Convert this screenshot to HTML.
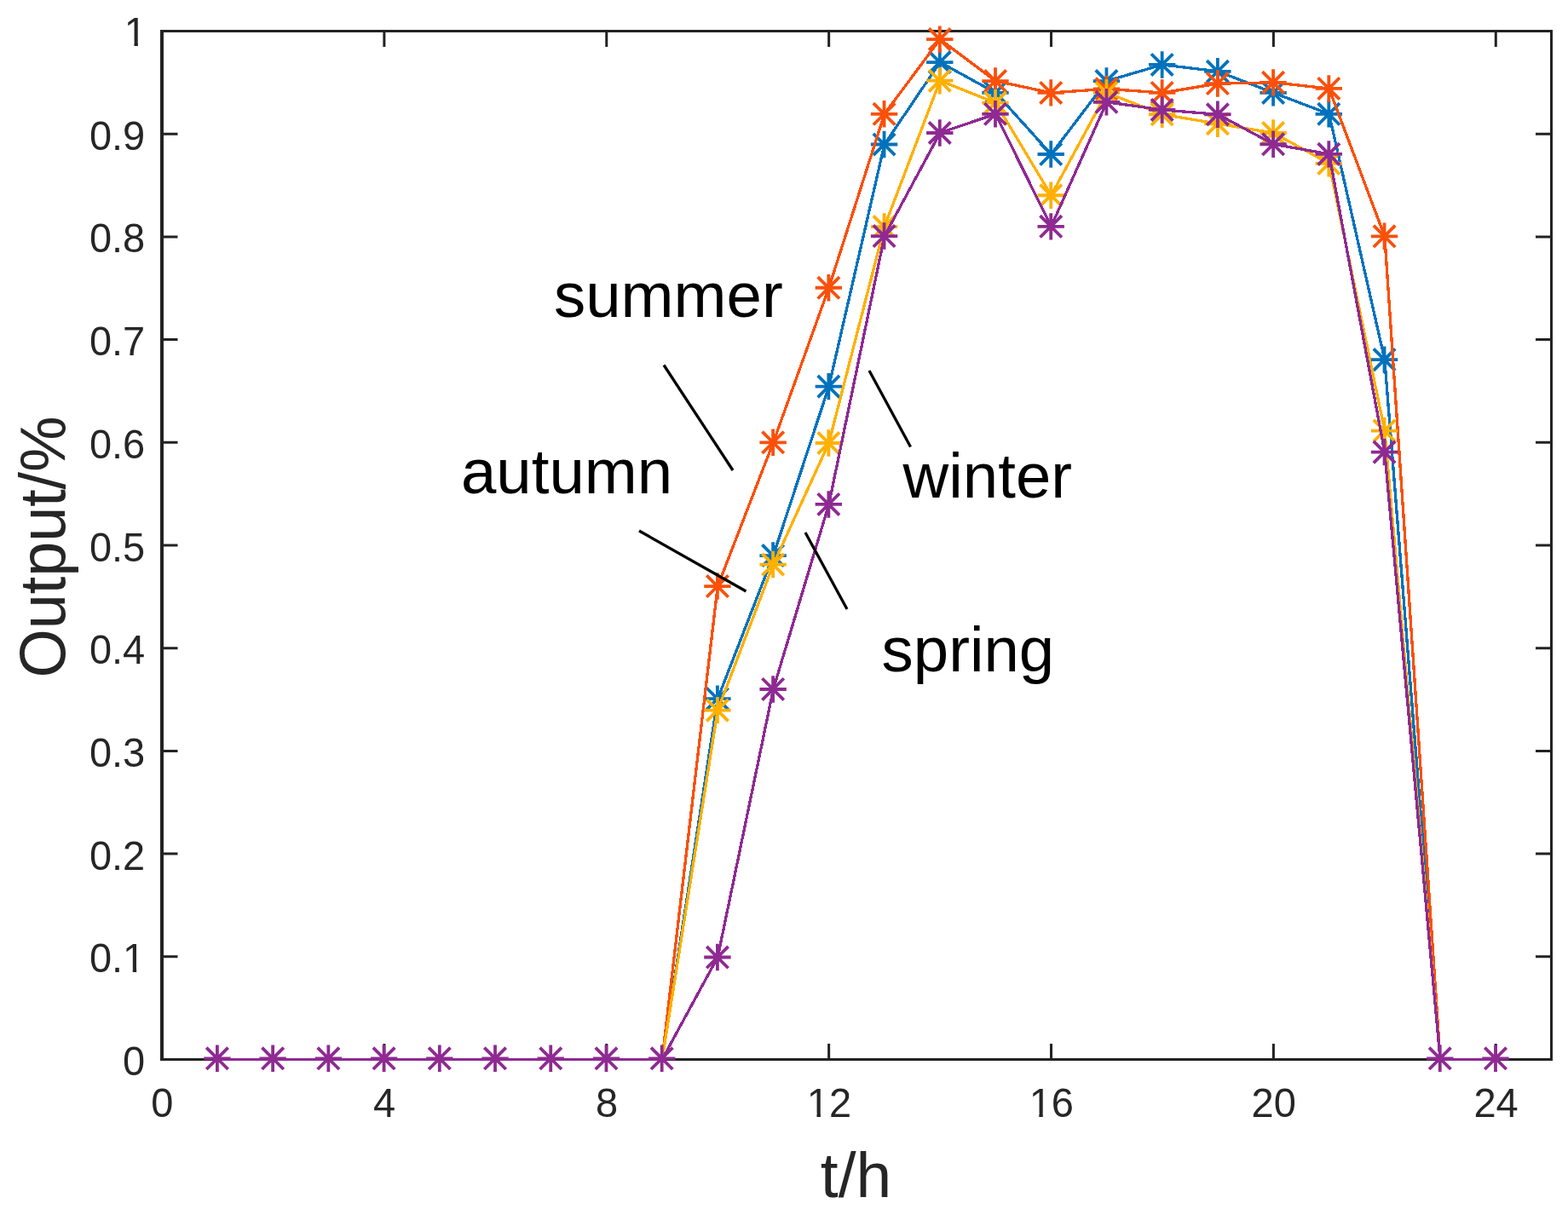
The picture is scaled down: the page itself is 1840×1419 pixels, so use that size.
<!DOCTYPE html>
<html lang="en"><head><meta charset="utf-8"><title>Output by season</title>
<style>
html,body{margin:0;padding:0;background:#fff;}
body{width:1840px;height:1419px;overflow:hidden;}
svg{display:block;}
text{font-family:"Liberation Sans",sans-serif;}
.tk{font-size:47px;fill:#262626;}
.lb{font-size:75px;fill:#262626;}
.an{font-size:74.4px;fill:#000;}
</style></head><body>
<svg width="1840" height="1419" viewBox="0 0 1840 1419">
<rect x="0" y="0" width="1840" height="1419" fill="#ffffff"/>
<g id="axes" fill="none" stroke="#222222">
<rect x="188" y="35" width="4" height="1210" fill="#222222" stroke="none"/>
<rect x="188" y="35" width="1634" height="3" fill="#222222" stroke="none"/>
<rect x="1819" y="35" width="3" height="1210" fill="#222222" stroke="none"/>
<rect x="188" y="1242" width="1634" height="3" fill="#222222" stroke="none"/>
<path d="M450.88 1243.50V1225.00 M450.88 36.50V55.00 M711.76 1243.50V1225.00 M711.76 36.50V55.00 M972.64 1243.50V1225.00 M972.64 36.50V55.00 M1233.52 1243.50V1225.00 M1233.52 36.50V55.00 M1494.40 1243.50V1225.00 M1494.40 36.50V55.00 M1755.28 1243.50V1225.00 M1755.28 36.50V55.00 M190.00 1122.80H208.50 M1820.50 1122.80H1802.00 M190.00 1002.10H208.50 M1820.50 1002.10H1802.00 M190.00 881.40H208.50 M1820.50 881.40H1802.00 M190.00 760.70H208.50 M1820.50 760.70H1802.00 M190.00 640.00H208.50 M1820.50 640.00H1802.00 M190.00 519.30H208.50 M1820.50 519.30H1802.00 M190.00 398.60H208.50 M1820.50 398.60H1802.00 M190.00 277.90H208.50 M1820.50 277.90H1802.00 M190.00 157.20H208.50 M1820.50 157.20H1802.00" stroke-width="3"/>
</g>
<g id="xticks" class="tk" text-anchor="middle">
<g transform="translate(190.30 1311) scale(1 1.04)"><text>0</text></g>
<g transform="translate(451.18 1311) scale(1 1.04)"><text>4</text></g>
<g transform="translate(712.06 1311) scale(1 1.04)"><text>8</text></g>
<g transform="translate(972.94 1311) scale(1 1.04)"><text>12</text><rect x="-23.79" y="-4.51" width="9.32" height="5.71" fill="#fff"/><rect x="-10.02" y="-4.51" width="8.94" height="5.71" fill="#fff"/></g>
<g transform="translate(1233.82 1311) scale(1 1.04)"><text>16</text><rect x="-23.79" y="-4.51" width="9.32" height="5.71" fill="#fff"/><rect x="-10.02" y="-4.51" width="8.94" height="5.71" fill="#fff"/></g>
<g transform="translate(1494.70 1311) scale(1 1.04)"><text>20</text></g>
<g transform="translate(1755.58 1311) scale(1 1.04)"><text>24</text></g>
</g>
<g id="yticks" class="tk" text-anchor="end">
<g transform="translate(170.20 1262.00) scale(1 1.04)"><text>0</text></g>
<g transform="translate(170.20 1141.30) scale(1 1.04)"><text>0.1</text><rect x="-23.79" y="-4.51" width="9.32" height="5.71" fill="#fff"/><rect x="-10.02" y="-4.51" width="8.94" height="5.71" fill="#fff"/></g>
<g transform="translate(170.20 1020.60) scale(1 1.04)"><text>0.2</text></g>
<g transform="translate(170.20 899.90) scale(1 1.04)"><text>0.3</text></g>
<g transform="translate(170.20 779.20) scale(1 1.04)"><text>0.4</text></g>
<g transform="translate(170.20 658.50) scale(1 1.04)"><text>0.5</text></g>
<g transform="translate(170.20 537.80) scale(1 1.04)"><text>0.6</text></g>
<g transform="translate(170.20 417.10) scale(1 1.04)"><text>0.7</text></g>
<g transform="translate(170.20 296.40) scale(1 1.04)"><text>0.8</text></g>
<g transform="translate(170.20 175.70) scale(1 1.04)"><text>0.9</text></g>
<g transform="translate(171.90 54.00) scale(1 1.04)"><text>1</text><rect x="-23.79" y="-4.51" width="9.32" height="5.71" fill="#fff"/><rect x="-10.02" y="-4.51" width="8.94" height="5.71" fill="#fff"/></g>
</g>
<text class="lb" text-anchor="middle" x="1004.5" y="1404.5">t/h</text>
<text class="lb" text-anchor="middle" style="font-size:73.7px" transform="translate(75.6 642) rotate(-90) scale(1 1.04)">Output/%</text>
<g id="blue" stroke="#0072BD">
<polyline points="776.98,1243.50 842.20,820.21 907.42,652.07 972.64,453.64 1037.86,169.51 1103.08,73.07 1168.30,108.92 1233.52,180.98 1298.74,95.04 1363.96,75.97 1429.18,83.81 1494.40,108.92 1559.62,133.78 1624.84,422.14 1690.06,1243.50" fill="none" stroke-width="3.3" stroke-linejoin="round" shape-rendering="crispEdges"/>
<path d="M826.20 820.21h31.40 M841.90 804.51v31.40 M829.20 807.51l25.40 25.40 M829.20 832.91l25.40 -25.40 M891.42 652.07h31.40 M907.12 636.37v31.40 M894.42 639.37l25.40 25.40 M894.42 664.77l25.40 -25.40 M956.64 453.64h31.40 M972.34 437.94v31.40 M959.64 440.94l25.40 25.40 M959.64 466.34l25.40 -25.40 M1021.86 169.51h31.40 M1037.56 153.81v31.40 M1024.86 156.81l25.40 25.40 M1024.86 182.21l25.40 -25.40 M1087.08 73.07h31.40 M1102.78 57.37v31.40 M1090.08 60.37l25.40 25.40 M1090.08 85.77l25.40 -25.40 M1152.30 108.92h31.40 M1168.00 93.22v31.40 M1155.30 96.22l25.40 25.40 M1155.30 121.62l25.40 -25.40 M1217.52 180.98h31.40 M1233.22 165.28v31.40 M1220.52 168.28l25.40 25.40 M1220.52 193.68l25.40 -25.40 M1282.74 95.04h31.40 M1298.44 79.34v31.40 M1285.74 82.34l25.40 25.40 M1285.74 107.74l25.40 -25.40 M1347.96 75.97h31.40 M1363.66 60.27v31.40 M1350.96 63.27l25.40 25.40 M1350.96 88.67l25.40 -25.40 M1413.18 83.81h31.40 M1428.88 68.11v31.40 M1416.18 71.11l25.40 25.40 M1416.18 96.51l25.40 -25.40 M1478.40 108.92h31.40 M1494.10 93.22v31.40 M1481.40 96.22l25.40 25.40 M1481.40 121.62l25.40 -25.40 M1543.62 133.78h31.40 M1559.32 118.08v31.40 M1546.62 121.08l25.40 25.40 M1546.62 146.48l25.40 -25.40 M1608.84 422.14h31.40 M1624.54 406.44v31.40 M1611.84 409.44l25.40 25.40 M1611.84 434.84l25.40 -25.40" fill="none" stroke-width="3.8"/>
</g>
<g id="orange" stroke="#F9500A">
<polyline points="776.98,1243.50 842.20,688.04 907.42,519.30 972.64,337.77 1037.86,133.78 1103.08,46.16 1168.30,95.04 1233.52,108.92 1298.74,104.33 1363.96,108.92 1429.18,98.06 1494.40,96.85 1559.62,103.97 1624.84,277.30 1690.06,1243.50" fill="none" stroke-width="3.3" stroke-linejoin="round" shape-rendering="crispEdges"/>
<path d="M826.20 688.04h31.40 M841.90 672.34v31.40 M829.20 675.34l25.40 25.40 M829.20 700.74l25.40 -25.40 M891.42 519.30h31.40 M907.12 503.60v31.40 M894.42 506.60l25.40 25.40 M894.42 532.00l25.40 -25.40 M956.64 337.77h31.40 M972.34 322.07v31.40 M959.64 325.07l25.40 25.40 M959.64 350.47l25.40 -25.40 M1021.86 133.78h31.40 M1037.56 118.08v31.40 M1024.86 121.08l25.40 25.40 M1024.86 146.48l25.40 -25.40 M1087.08 46.16h31.40 M1102.78 30.46v31.40 M1090.08 33.46l25.40 25.40 M1090.08 58.86l25.40 -25.40 M1152.30 95.04h31.40 M1168.00 79.34v31.40 M1155.30 82.34l25.40 25.40 M1155.30 107.74l25.40 -25.40 M1217.52 108.92h31.40 M1233.22 93.22v31.40 M1220.52 96.22l25.40 25.40 M1220.52 121.62l25.40 -25.40 M1282.74 104.33h31.40 M1298.44 88.63v31.40 M1285.74 91.63l25.40 25.40 M1285.74 117.03l25.40 -25.40 M1347.96 108.92h31.40 M1363.66 93.22v31.40 M1350.96 96.22l25.40 25.40 M1350.96 121.62l25.40 -25.40 M1413.18 98.06h31.40 M1428.88 82.36v31.40 M1416.18 85.36l25.40 25.40 M1416.18 110.76l25.40 -25.40 M1478.40 96.85h31.40 M1494.10 81.15v31.40 M1481.40 84.15l25.40 25.40 M1481.40 109.55l25.40 -25.40 M1543.62 103.97h31.40 M1559.32 88.27v31.40 M1546.62 91.27l25.40 25.40 M1546.62 116.67l25.40 -25.40 M1608.84 277.30h31.40 M1624.54 261.60v31.40 M1611.84 264.60l25.40 25.40 M1611.84 290.00l25.40 -25.40" fill="none" stroke-width="3.8"/>
</g>
<g id="yellow" stroke="#FFB000">
<polyline points="776.98,1243.50 842.20,833.60 907.42,662.57 972.64,520.02 1037.86,266.07 1103.08,94.68 1168.30,120.63 1233.52,229.26 1298.74,108.92 1363.96,134.27 1429.18,145.25 1494.40,155.99 1559.62,191.84 1624.84,505.54 1690.06,1243.50" fill="none" stroke-width="3.3" stroke-linejoin="round" shape-rendering="crispEdges"/>
<path d="M826.20 833.60h31.40 M841.90 817.90v31.40 M829.20 820.90l25.40 25.40 M829.20 846.30l25.40 -25.40 M891.42 662.57h31.40 M907.12 646.87v31.40 M894.42 649.87l25.40 25.40 M894.42 675.27l25.40 -25.40 M956.64 520.02h31.40 M972.34 504.32v31.40 M959.64 507.32l25.40 25.40 M959.64 532.72l25.40 -25.40 M1021.86 266.07h31.40 M1037.56 250.37v31.40 M1024.86 253.37l25.40 25.40 M1024.86 278.77l25.40 -25.40 M1087.08 94.68h31.40 M1102.78 78.98v31.40 M1090.08 81.98l25.40 25.40 M1090.08 107.38l25.40 -25.40 M1152.30 120.63h31.40 M1168.00 104.93v31.40 M1155.30 107.93l25.40 25.40 M1155.30 133.33l25.40 -25.40 M1217.52 229.26h31.40 M1233.22 213.56v31.40 M1220.52 216.56l25.40 25.40 M1220.52 241.96l25.40 -25.40 M1282.74 108.92h31.40 M1298.44 93.22v31.40 M1285.74 96.22l25.40 25.40 M1285.74 121.62l25.40 -25.40 M1347.96 134.27h31.40 M1363.66 118.57v31.40 M1350.96 121.57l25.40 25.40 M1350.96 146.97l25.40 -25.40 M1413.18 145.25h31.40 M1428.88 129.55v31.40 M1416.18 132.55l25.40 25.40 M1416.18 157.95l25.40 -25.40 M1478.40 155.99h31.40 M1494.10 140.29v31.40 M1481.40 143.29l25.40 25.40 M1481.40 168.69l25.40 -25.40 M1543.62 191.84h31.40 M1559.32 176.14v31.40 M1546.62 179.14l25.40 25.40 M1546.62 204.54l25.40 -25.40 M1608.84 505.54h31.40 M1624.54 489.84v31.40 M1611.84 492.84l25.40 25.40 M1611.84 518.24l25.40 -25.40" fill="none" stroke-width="3.8"/>
</g>
<g id="purple" stroke="#8E2A92">
<polyline points="255.22,1243.50 320.44,1243.50 385.66,1243.50 450.88,1243.50 516.10,1243.50 581.32,1243.50 646.54,1243.50 711.76,1243.50 776.98,1243.50 842.20,1123.52 907.42,808.98 972.64,591.96 1037.86,277.06 1103.08,155.99 1168.30,133.78 1233.52,265.83 1298.74,119.78 1363.96,128.96 1429.18,134.27 1494.40,169.27 1559.62,180.86 1624.84,530.65 1690.06,1243.50 1755.28,1243.50" fill="none" stroke-width="3.3" stroke-linejoin="round" shape-rendering="crispEdges"/>
<path d="M239.22 1242.30h31.40 M254.92 1226.60v31.40 M242.22 1229.60l25.40 25.40 M242.22 1255.00l25.40 -25.40 M304.44 1242.30h31.40 M320.14 1226.60v31.40 M307.44 1229.60l25.40 25.40 M307.44 1255.00l25.40 -25.40 M369.66 1242.30h31.40 M385.36 1226.60v31.40 M372.66 1229.60l25.40 25.40 M372.66 1255.00l25.40 -25.40 M434.88 1242.30h31.40 M450.58 1226.60v31.40 M437.88 1229.60l25.40 25.40 M437.88 1255.00l25.40 -25.40 M500.10 1242.30h31.40 M515.80 1226.60v31.40 M503.10 1229.60l25.40 25.40 M503.10 1255.00l25.40 -25.40 M565.32 1242.30h31.40 M581.02 1226.60v31.40 M568.32 1229.60l25.40 25.40 M568.32 1255.00l25.40 -25.40 M630.54 1242.30h31.40 M646.24 1226.60v31.40 M633.54 1229.60l25.40 25.40 M633.54 1255.00l25.40 -25.40 M695.76 1242.30h31.40 M711.46 1226.60v31.40 M698.76 1229.60l25.40 25.40 M698.76 1255.00l25.40 -25.40 M760.98 1242.30h31.40 M776.68 1226.60v31.40 M763.98 1229.60l25.40 25.40 M763.98 1255.00l25.40 -25.40 M826.20 1123.52h31.40 M841.90 1107.82v31.40 M829.20 1110.82l25.40 25.40 M829.20 1136.22l25.40 -25.40 M891.42 808.98h31.40 M907.12 793.28v31.40 M894.42 796.28l25.40 25.40 M894.42 821.68l25.40 -25.40 M956.64 591.96h31.40 M972.34 576.26v31.40 M959.64 579.26l25.40 25.40 M959.64 604.66l25.40 -25.40 M1021.86 277.06h31.40 M1037.56 261.36v31.40 M1024.86 264.36l25.40 25.40 M1024.86 289.76l25.40 -25.40 M1087.08 155.99h31.40 M1102.78 140.29v31.40 M1090.08 143.29l25.40 25.40 M1090.08 168.69l25.40 -25.40 M1152.30 133.78h31.40 M1168.00 118.08v31.40 M1155.30 121.08l25.40 25.40 M1155.30 146.48l25.40 -25.40 M1217.52 265.83h31.40 M1233.22 250.13v31.40 M1220.52 253.13l25.40 25.40 M1220.52 278.53l25.40 -25.40 M1282.74 119.78h31.40 M1298.44 104.08v31.40 M1285.74 107.08l25.40 25.40 M1285.74 132.48l25.40 -25.40 M1347.96 128.96h31.40 M1363.66 113.26v31.40 M1350.96 116.26l25.40 25.40 M1350.96 141.66l25.40 -25.40 M1413.18 134.27h31.40 M1428.88 118.57v31.40 M1416.18 121.57l25.40 25.40 M1416.18 146.97l25.40 -25.40 M1478.40 169.27h31.40 M1494.10 153.57v31.40 M1481.40 156.57l25.40 25.40 M1481.40 181.97l25.40 -25.40 M1543.62 180.86h31.40 M1559.32 165.16v31.40 M1546.62 168.16l25.40 25.40 M1546.62 193.56l25.40 -25.40 M1608.84 530.65h31.40 M1624.54 514.95v31.40 M1611.84 517.95l25.40 25.40 M1611.84 543.35l25.40 -25.40 M1674.06 1242.30h31.40 M1689.76 1226.60v31.40 M1677.06 1229.60l25.40 25.40 M1677.06 1255.00l25.40 -25.40 M1739.28 1242.30h31.40 M1754.98 1226.60v31.40 M1742.28 1229.60l25.40 25.40 M1742.28 1255.00l25.40 -25.40" fill="none" stroke-width="3.8"/>
</g>
<g id="leaders" stroke="#000" stroke-width="3.3" fill="none" stroke-linecap="butt">
<line x1="779" y1="428.5" x2="860" y2="552"/>
<line x1="1020" y1="435" x2="1068.5" y2="524.5"/>
<line x1="750" y1="623" x2="875.5" y2="694"/>
<line x1="945" y1="625" x2="994" y2="715"/>
</g>
<g id="labels" class="an">
<text x="650" y="372">summer</text>
<text x="541" y="579.2">autumn</text>
<text x="1059.6" y="584.3">winter</text>
<text x="1034.6" y="787.6">spring</text>
</g>
</svg>
</body></html>
